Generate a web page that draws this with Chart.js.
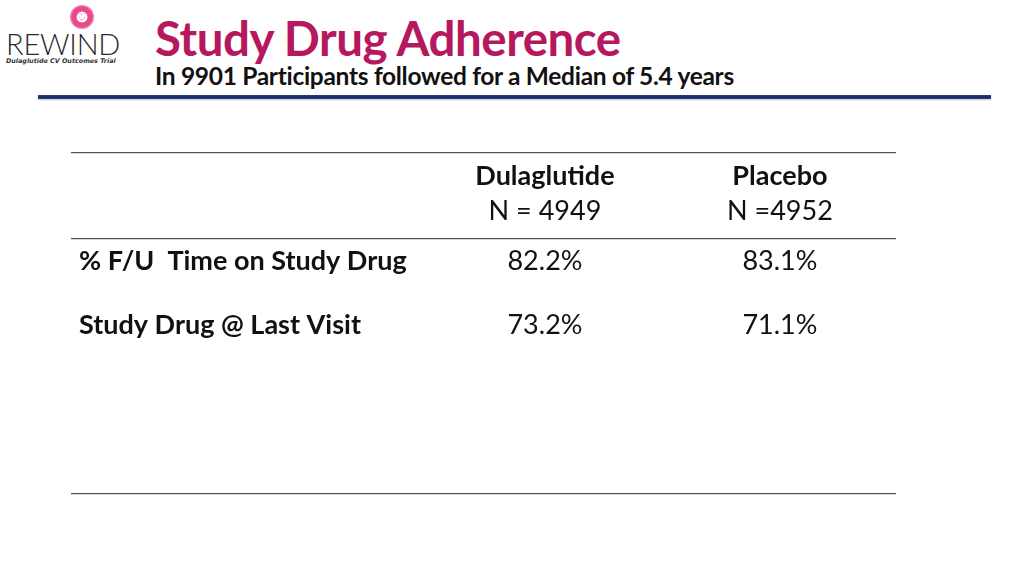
<!DOCTYPE html>
<html><head><meta charset="utf-8">
<script src="https://cdn.jsdelivr.net/npm/chart.js@4/dist/chart.umd.min.js"></script>
<style>
html,body{margin:0;padding:0;background:#fff;width:1024px;height:576px;overflow:hidden;font-family:Lato,"Open Sans",sans-serif}
#wrap{position:absolute;left:0;top:0;width:1024px;height:576px}
#title{position:absolute;left:155px;top:10px;font-weight:700;font-size:47.5px;color:#b5185d;letter-spacing:-0.5px;white-space:nowrap;line-height:56px}
#sub{position:absolute;left:155px;top:62px;font-weight:700;font-size:24.5px;color:#111;white-space:nowrap;line-height:28px;letter-spacing:-0.3px}
#rule{position:absolute;left:38px;top:95px;width:953px;height:4px;background:linear-gradient(#2a3f85,#142866 60%,#394d8a);box-shadow:0 1px 2px rgba(0,0,0,0.25)}
#logoIcon{position:absolute;left:70px;top:5px;width:24px;height:24px;border-radius:50%;background:radial-gradient(circle,#fff 0 30%,#e64a8c 34% 60%,#f27aa8 64% 100%)}
#logoIcon span{position:absolute;left:0;top:0;width:24px;text-align:center;font-size:11px;line-height:24px;color:#e0306f}
#logoText{position:absolute;left:6px;top:27px;font-family:Lato,sans-serif;font-weight:300;font-size:29px;color:#2a2a2a;letter-spacing:-0.2px;line-height:34px}
#logoSub{position:absolute;left:6px;top:57px;font-family:"DejaVu Sans",sans-serif;font-size:6.4px;font-style:italic;font-weight:700;color:#333;white-space:nowrap}
#c{position:absolute;left:0;top:0}
</style></head>
<body><div id="wrap">
<div id="logoIcon"><span>♡</span></div>
<div id="logoText">REWIND</div>
<div id="logoSub">Dulaglutide CV Outcomes Trial</div>
<div id="title">Study Drug Adherence</div>
<div id="sub">In 9901 Participants followed for a Median of 5.4 years</div>
<div id="rule"></div>
<canvas id="c" width="1024" height="576"></canvas>
</div>
<script>
const groups = ["Dulaglutide", "Placebo"];
const groupN = ["N = 4949", "N =4952"];
const rowLabels = ["% F/U  Time on Study Drug", "Study Drug @ Last Visit"];
const dulaglutide = [82.2, 73.2];
const placebo = [83.1, 71.1];

const seriesValues = [dulaglutide, placebo];
const datasets = groups.map((g, gi) => ({
  label: g,
  n: groupN[gi],
  data: seriesValues[gi].map((v, ri) => ({x: gi + 2, y: ri + 1, v: v})),
  pointRadius: 0,
  showLine: false
}));

const FONT = "Lato";
const tablePlugin = {
  id: 'tableText',
  afterDatasetsDraw(chart) {
    const ctx = chart.ctx;
    const xs = chart.scales.x, ys = chart.scales.y;
    ctx.save();
    ctx.fillStyle = '#111';
    ctx.textBaseline = 'middle';
    chart.data.datasets.forEach((ds, di) => {
      const px = xs.getPixelForValue(ds.data[0].x);
      const py = ys.getPixelForValue(0);
      ctx.textAlign = 'center';
      ctx.font = "bold 27px " + FONT;
      ctx.fillText(ds.label, px, py - 21);
      ctx.font = "27px " + FONT;
      ctx.fillText(ds.n, px, py + 14);
      const meta = chart.getDatasetMeta(di);
      ds.data.forEach((d, i) => {
        const el = meta.data[i];
        ctx.font = "27px " + FONT;
        ctx.fillText(d.v.toFixed(1) + "%", el.x, el.y);
      });
    });
    ctx.textAlign = 'left';
    ctx.font = "bold 27px " + FONT;
    rowLabels.forEach((lab, i) => {
      ctx.fillText(lab, xs.getPixelForValue(0) + 4, ys.getPixelForValue(i + 1));
    });
    ctx.restore();
  }
};

new Chart(document.getElementById('c'), {
  type: 'scatter',
  data: { datasets },
  options: {
    responsive: false,
    animation: false,
    events: [],
    layout: { padding: { left: 71, right: 128, top: 153, bottom: 82 } },
    plugins: { legend: { display: false }, tooltip: { enabled: false } },
    scales: {
      x: { type: 'linear', min: -0.017, max: 3.494, display: false },
      y: {
        type: 'linear', reverse: true, min: -0.7, max: 4.65,
        afterBuildTicks: (s) => { s.ticks = [{value: -0.7}, {value: 0.65}, {value: 4.65}]; },
        ticks: { display: false },
        border: { display: false },
        grid: { color: '#555', lineWidth: 1.3, drawTicks: false }
      }
    }
  },
  plugins: [tablePlugin]
});
</script>
</body></html>
